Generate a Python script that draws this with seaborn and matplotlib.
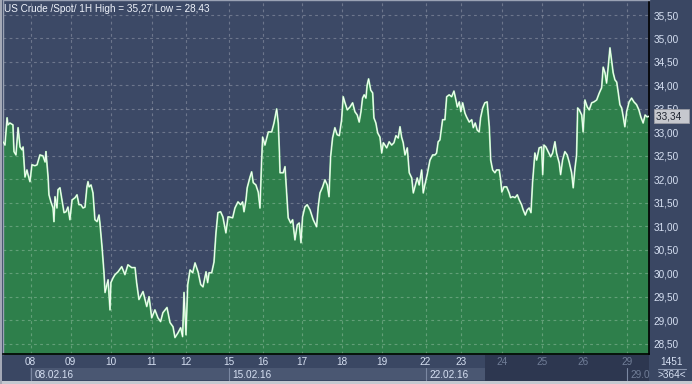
import matplotlib
matplotlib.use("Agg")
import matplotlib.pyplot as plt
import matplotlib.transforms as mtransforms
from matplotlib.patches import Rectangle
import seaborn as sns
import pandas as pd

# ---------------- data ----------------
bars = [0, 1.1, 2.3, 2.8, 3.9, 5.6, 6.2, 7.3, 8.5, 9.6, 10.7, 11.3, 12.4, 13.5, 14.1, 15.2,
        16.3, 18.0, 19.2, 20.8, 22.5, 23.7, 24.2, 25.4, 25.9, 27.0, 28.2, 28.7, 29.3, 30.4,
        31.0, 32.1, 33.2, 34.4, 35.5, 36.6, 37.7, 38.9, 40.6, 41.7, 42.8, 43.9, 45.1, 46.2,
        47.3, 47.9, 48.5, 49.6, 50.7, 51.8, 53.0, 54.1, 54.6, 55.8, 56.9, 57.5, 58.6, 59.2,
        60.3, 60.8, 62.0,
        63.1, 64.8, 66.9, 68.7, 70.4, 72.5, 74.4, 75.3, 76.6, 78.9, 81.0, 82.3, 83.8, 85.6,
        87.3, 88.8, 90.1, 92.4, 94.1, 95.8, 96.9, 98.6, 100.1, 101.2, 102.0, 103.1, 104.1,
        105.4, 106.9, 108.2, 109.9, 111.4, 112.7, 114.4, 115.3, 116.1, 117.6, 118.9, 120.0,
        121.1, 122.6, 123.9, 125.6, 126.8,
        127.3, 129.4, 130.7, 132.4, 133.9, 135.0, 135.8, 136.9, 137.6, 139.2, 140.1, 141.0,
        142.5, 143.8, 144.8, 145.7, 146.3, 147.6, 149.5, 151.4, 152.7, 154.2, 155.1, 155.7,
        156.1, 157.9, 158.9, 159.8, 160.7, 162.1, 163.2, 164.5, 165.8, 166.9, 167.9, 168.8,
        170.1, 171.4, 173.0, 174.8, 176.7, 177.6, 178.6, 180.1, 181.4, 182.7, 183.7, 184.6,
        185.7, 187.0, 188.3, 189.5,
        190.8, 191.7, 192.7, 194.0, 195.5, 197.0, 198.3, 199.6, 200.7, 201.7, 202.6, 203.5,
        204.5, 205.2, 206.0, 207.2, 208.3, 209.0, 210.1, 211.1, 212.4, 213.4, 214.3, 215.2,
        216.2, 217.6, 219.0, 220.3, 221.4, 222.7, 223.7, 224.6, 225.5, 226.5, 227.8, 228.9,
        230.3, 231.2, 232.1, 233.4, 234.5, 235.9, 236.8, 237.7, 239.0, 240.6, 242.1, 243.4,
        244.3, 245.2, 246.2, 247.7, 249.0, 250.0, 251.4,
        252.8, 254.1, 255.2, 256.0, 257.1, 258.0, 259.0, 260.3, 261.2, 262.7, 264.1, 265.0,
        266.1, 267.2, 268.3, 269.1, 270.3, 271.5, 272.8, 274.0, 274.8, 275.9, 277.2, 278.1,
        279.6, 280.4, 281.1, 282.3, 283.8, 285.2, 286.0, 287.2, 288.5, 289.8, 290.9, 292.2,
        293.1, 294.3, 295.4, 296.5, 297.5, 298.4, 299.7, 300.7, 302.1, 303.5, 304.1, 304.8,
        305.9, 307.2, 308.6, 309.7, 311.0, 311.9,
        313.4, 314.2, 315.3, 316.6, 317.9, 319.0, 320.4, 321.3, 322.3, 323.2, 323.8, 324.7,
        326.1, 326.9, 327.9, 329.2, 330.3, 331.7, 333.0, 334.5, 336.0, 337.3, 338.2, 339.2,
        340.1, 341.0, 342.0, 342.9, 343.8, 344.8, 345.8, 346.7, 347.6, 348.6, 349.5, 350.4,
        351.4, 352.8, 354.2, 355.5, 357.0, 358.3, 359.4, 360.7, 361.8, 362.9, 363.8]

prices = [32.80, 32.73, 33.31, 33.16, 33.20, 33.16, 32.59, 32.52, 33.10, 32.69, 32.63, 32.69,
          32.05, 32.20, 32.10, 31.95, 32.31, 32.29, 32.31, 32.52, 32.50, 32.37, 32.59, 32.05,
          31.67, 31.52, 31.39, 31.10, 31.63, 31.39, 31.78, 31.82, 31.56, 31.29, 31.31, 31.41,
          31.14, 31.56, 31.61, 31.67, 31.46, 31.46, 31.39, 31.41, 31.84, 31.95, 31.84, 31.88,
          31.71, 31.14, 31.10, 31.24, 31.07, 30.56, 30.01, 29.59, 29.76, 29.86, 29.22, 29.80,
          29.90,
          29.97, 30.03, 30.14, 29.97, 30.18, 30.12, 30.12, 29.80, 29.44, 29.61, 29.29, 29.50,
          29.05, 29.22, 29.05, 28.97, 29.16, 29.27, 28.95, 28.86, 28.63, 28.73, 28.84, 28.65,
          29.59, 28.69, 29.76, 30.07, 30.01, 30.22, 30.03, 29.76, 29.71, 30.03, 29.80, 30.01,
          30.01, 30.24, 30.86, 31.29, 31.31, 31.20, 30.86, 31.20,
          31.20, 31.18, 31.39, 31.52, 31.46, 31.52, 31.31, 31.56, 31.82, 32.05, 32.16, 31.93,
          31.88, 31.73, 31.39, 32.37, 32.90, 32.73, 33.01, 33.01, 33.20, 33.50, 33.20, 32.63,
          32.14, 32.14, 32.27, 31.71, 31.18, 31.07, 31.14, 30.71, 31.03, 31.07, 30.65, 31.20,
          31.41, 31.46, 31.35, 31.14, 30.99, 31.41, 31.71, 31.84, 31.99, 31.88, 31.63, 32.48,
          32.88, 33.10, 32.95, 32.93,
          33.27, 33.76, 33.63, 33.48, 33.54, 33.63, 33.44, 33.37, 33.22, 33.44, 33.73, 33.80,
          33.73, 34.01, 34.14, 33.90, 33.84, 33.31, 33.20, 32.99, 32.90, 32.56, 32.78, 32.73,
          32.67, 32.80, 32.73, 32.78, 32.93, 32.88, 33.12, 32.90, 32.78, 32.52, 32.67, 32.14,
          32.03, 31.71, 31.84, 32.03, 31.88, 32.20, 31.71, 31.88, 32.10, 32.41, 32.52, 32.52,
          32.56, 32.80, 32.84, 33.27, 33.27, 33.76, 33.80,
          33.76, 33.88, 33.69, 33.54, 33.65, 33.44, 33.63, 33.41, 33.33, 33.22, 33.27, 33.10,
          33.20, 33.05, 33.01, 33.31, 33.52, 33.63, 33.65, 33.12, 32.41, 32.20, 32.14, 32.20,
          32.20, 31.99, 31.73, 31.84, 31.84, 31.71, 31.61, 31.63, 31.61, 31.67, 31.56, 31.46,
          31.35, 31.24, 31.35, 31.39, 31.29, 31.93, 32.56, 32.41, 32.67, 32.69, 32.10, 32.73,
          32.69, 32.59, 32.48, 32.56, 32.80, 32.56,
          32.35, 32.10, 32.41, 32.59, 32.52, 32.37, 32.14, 31.82, 32.24, 32.52, 33.52, 33.48,
          33.37, 33.01, 33.69, 33.54, 33.48, 33.63, 33.65, 33.69, 33.84, 33.95, 34.39, 34.27,
          34.05, 34.39, 34.80, 34.54, 34.27, 34.12, 34.07, 33.84, 33.59, 33.52, 33.33, 33.12,
          33.44, 33.65, 33.73, 33.65, 33.59, 33.48, 33.33, 33.20, 33.37, 33.33, 33.34]

day_ticks = [15.6, 38.1, 60.7, 83.8, 103.1, 127.3, 146.3, 168.3, 190.8, 213.7, 238.1, 258.0,
             281.0, 303.8, 326.9, 351.4]
day_labels = ["08", "09", "10", "11", "12", "15", "16", "17", "18", "19", "22", "23",
              "24", "25", "26", "29"]
week_ticks = [15.6, 127.3, 238.1, 351.4]
week_labels = ["08.02.16", "15.02.16", "22.02.16", "29.0"]
price_ticks = [28.5, 29.0, 29.5, 30.0, 30.5, 31.0, 31.5, 32.0, 32.5, 33.0, 33.5, 34.0, 34.5,
               35.0, 35.5]
title = "US Crude /Spot/ 1H High = 35,27 Low = 28,43"
last_price = 33.34
bar_count = "1451"
visible = ">364<"

df = pd.DataFrame({"bar": bars, "price": prices})

# ---------------- figure ----------------
sns.set_style("dark")
plt.rcParams["font.family"] = ["Liberation Sans", "DejaVu Sans"]

W, H = 692, 384
fig = plt.figure(figsize=(W / 100, H / 100), dpi=100)
fig.patch.set_facecolor("#3a4763")


def fx(px):
    return px / W


def fy(py):
    return 1 - py / H


BG = "#3c4966"
TXT = "#d6e0f2"
DIM = "#707d97"
FS = 7.2

ax = fig.add_axes([fx(3), fy(354), fx(649) - fx(3), fy(0) - fy(354)])
ax.set_facecolor(BG)

ymin, ymax = 28.28, 35.82
ax.fill_between(df["bar"], df["price"], ymin - 1, color="#2e7f4b", lw=0, zorder=1)
for yv in price_ticks:
    ax.axhline(yv, color="white", alpha=0.25, lw=0.8, ls=(0, (2.5, 3)), zorder=2)
for xv in day_ticks:
    ax.axvline(xv, color="white", alpha=0.25, lw=0.8, ls=(0, (2.5, 3)), zorder=2)
sns.lineplot(data=df, x="bar", y="price", ax=ax, color="#9fe6a8", lw=1.3, zorder=3,
             estimator=None, sort=False)
sns.lineplot(data=df, x="bar", y="price", ax=ax, color="white", lw=0.6, zorder=4,
             estimator=None, sort=False)

ax.set_xlim(0, 364)
ax.set_ylim(ymin, ymax)
ax.set_xlabel("")
ax.set_ylabel("")
ax.grid(False)
ax.yaxis.tick_right()
ax.set_yticks(price_ticks)
ax.set_yticklabels([f"{v:.2f}".replace(".", ",") for v in price_ticks],
                   fontsize=FS, color=TXT)
ax.tick_params(axis="y", length=0, pad=3)
ax.set_xticks([])
for side in ["top", "left"]:
    ax.spines[side].set_visible(True)
    ax.spines[side].set_color("#9aa2b4")
    ax.spines[side].set_linewidth(1)
for side in ["right", "bottom"]:
    ax.spines[side].set_visible(True)
    ax.spines[side].set_color("#000000")
    ax.spines[side].set_linewidth(1.2)

# bottom panel decorations (behind axes)
fig.patches.append(Rectangle((fx(485), fy(381)), fx(649) - fx(485), fy(354) - fy(381),
                             transform=fig.transFigure, facecolor="#2d3750",
                             edgecolor="none", zorder=-5))
fig.patches.append(Rectangle((fx(30), fy(380)), fx(485) - fx(30), fy(368) - fy(380),
                             transform=fig.transFigure, facecolor="#4a5772",
                             edgecolor="none", zorder=-5))
fig.patches.append(Rectangle((0, 0), 1, fy(381), transform=fig.transFigure,
                             facecolor="#c4c8d0", edgecolor="none", zorder=-5))
fig.patches.append(Rectangle((0, 0), fx(2), 1, transform=fig.transFigure,
                             facecolor="#a4a9b6", edgecolor="none", zorder=-5))

trans_day = mtransforms.blended_transform_factory(ax.transData, fig.transFigure)
for xv, lab in zip(day_ticks, day_labels):
    col = TXT if xv < 270 else DIM
    ax.text(xv, fy(362), lab, transform=trans_day, ha="center", va="center",
            fontsize=FS, color=col, clip_on=False)
for xv, lab in zip(week_ticks, week_labels):
    col = TXT if xv < 270 else DIM
    ax.text(xv + 2, fy(374.5), lab, transform=trans_day, ha="left", va="center",
            fontsize=FS, color=col, clip_on=False)
    ax.plot([xv, xv], [fy(368), fy(380)], transform=trans_day, color="#7b88a2",
            lw=0.8, clip_on=False)

# title
fig.text(fx(4), fy(9), title, ha="left", va="center", fontsize=FS, color="#eef2fa")

# last price marker
trans_y = mtransforms.blended_transform_factory(fig.transFigure, ax.transData)
ax.text(fx(656), last_price, f"{last_price:.2f}".replace(".", ",") + "  ",
        transform=trans_y, ha="left", va="center", fontsize=FS, color="#1e2430",
        zorder=10, clip_on=False,
        bbox=dict(boxstyle="square,pad=0.2", facecolor="#c6c8ce", edgecolor="#9a9ca4",
                  lw=0.6))

# bar count box
fig.text(fx(672), fy(362), bar_count, ha="center", va="center", fontsize=FS, color=TXT)
fig.text(fx(672), fy(375), visible, ha="center", va="center", fontsize=FS, color=TXT)
fig.add_artist(plt.Line2D([fx(658), fx(686)], [fy(368.5), fy(368.5)],
                          transform=fig.transFigure, color="#8a96ae", lw=0.8))

fig.savefig("out.png", dpi=100, facecolor=fig.get_facecolor())
